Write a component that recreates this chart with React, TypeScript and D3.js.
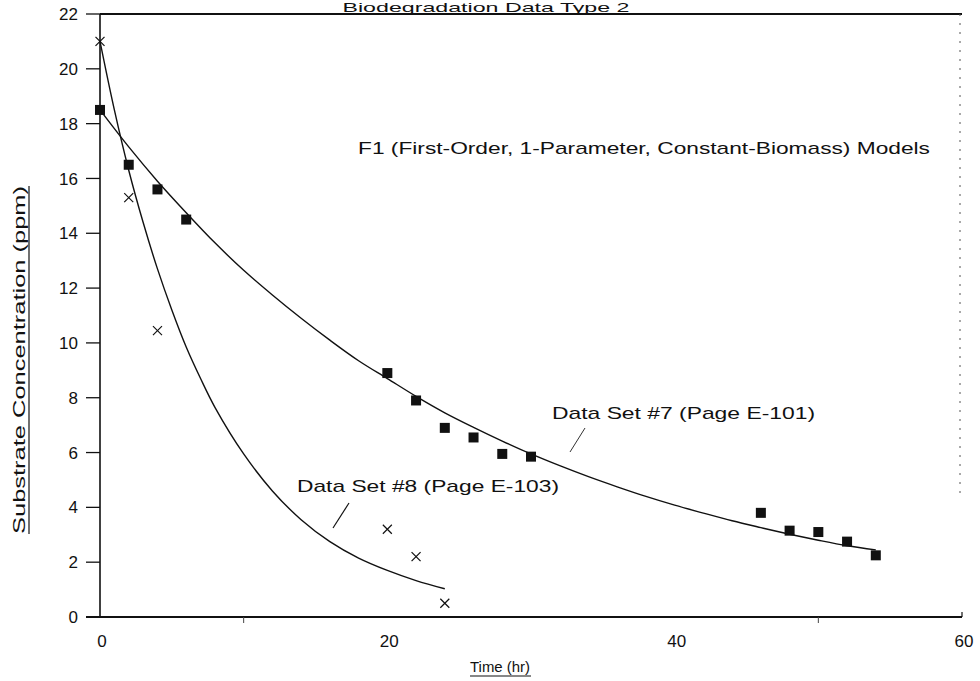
import React from "react";
import * as d3 from "d3";

const W = 980;
const H = 681;

const titleText = "Biodegradation Data Type 2";
const modelText = "F1 (First-Order, 1-Parameter, Constant-Biomass) Models";
const xLabel = "Time (hr)";
const yLabel = "Substrate Concentration (ppm)";
const label7 = "Data Set #7 (Page E-101)";
const label8 = "Data Set #8 (Page E-103)";

const xTicks = [0, 20, 40, 60];
const xMinorTicks = [10, 50];
const yTicks = [0, 2, 4, 6, 8, 10, 12, 14, 16, 18, 20, 22];

// Data Set #7 (squares)
const set7T = [0, 2, 4, 6, 20, 22, 24, 26, 28, 30, 46, 48, 50, 52, 54];
const set7C = [18.5, 16.5, 15.6, 14.5, 8.9, 7.9, 6.9, 6.55, 5.95, 5.85, 3.8, 3.15, 3.1, 2.75, 2.25];

// Data Set #8 (crosses)
const set8T = [0, 2, 4, 20, 22, 24];
const set8C = [21.0, 15.3, 10.45, 3.2, 2.2, 0.5];

// Model curve #7
const fit7T = [0, 2, 4, 6, 8, 10, 12, 14, 16, 18, 20, 22, 24, 26, 28, 30, 32, 34, 36, 38, 40, 42, 44, 46, 48, 50, 52, 54];
const fit7C = [18.5, 17.15, 15.9, 14.75, 13.65, 12.65, 11.75, 10.9, 10.1, 9.35, 8.7, 8.05, 7.45, 6.92, 6.42, 5.95, 5.52, 5.12, 4.75, 4.4, 4.08, 3.79, 3.51, 3.26, 3.02, 2.8, 2.6, 2.45];

// Model curve #8
const fit8T = [0, 1, 2, 3, 4, 5, 6, 7, 8, 10, 12, 14, 16, 18, 20, 22, 24];
const fit8C = [21.0, 18.5, 16.3, 14.4, 12.7, 11.2, 9.85, 8.7, 7.65, 5.95, 4.6, 3.55, 2.75, 2.15, 1.7, 1.33, 1.03];

const FONT = "'Liberation Sans', Arial, sans-serif";

export default function App() {
  const x = d3.scaleLinear().domain([0, 60]).range([100, 962]);
  const y = d3.scaleLinear().domain([0, 22]).range([617, 14]);

  const line = d3
    .line<[number, number]>()
    .x((d) => x(d[0]))
    .y((d) => y(d[1]))
    .curve(d3.curveCatmullRom.alpha(0.5));

  const fit7 = fit7T.map((t, i) => [t, fit7C[i]] as [number, number]);
  const fit8 = fit8T.map((t, i) => [t, fit8C[i]] as [number, number]);

  const ink = "#111";

  return (
    <div style={{ position: "absolute", left: 0, top: 0 }}>
      <svg width={W} height={H} style={{ display: "block", background: "#fff" }} fontFamily={FONT}>
        {/* title */}
        <text x={486} y={12} textAnchor="middle" fontSize={13} fill={ink} textLength={287} lengthAdjust="spacingAndGlyphs">
          {titleText}
        </text>

        {/* frame */}
        <line x1={x(0)} x2={x(60)} y1={y(22)} y2={y(22)} stroke={ink} strokeWidth={2} />
        <line x1={x(0)} x2={x(0)} y1={y(22)} y2={y(0)} stroke={ink} strokeWidth={1.6} />
        <line x1={x(0) - 14} x2={x(60)} y1={y(0)} y2={y(0)} stroke={ink} strokeWidth={2} />
        <line x1={x(60) - 2} x2={x(60) - 2} y1={y(22)} y2={y(4.3)} stroke="#555" strokeWidth={1} strokeDasharray="2 7" />
        <line x1={x(60)} x2={x(60)} y1={y(0)} y2={y(0) - 5} stroke={ink} strokeWidth={1.2} />

        {/* y ticks */}
        {yTicks.map((v) => (
          <g key={"yt" + v}>
            <line x1={x(0) - 14} x2={x(0)} y1={y(v)} y2={y(v)} stroke={ink} strokeWidth={1.3} />
            <text x={78} y={y(v)} dy="0.36em" textAnchor="end" fontSize={17} fill={ink}>
              {v}
            </text>
          </g>
        ))}

        {/* x ticks */}
        {xTicks.map((v) => (
          <text key={"xt" + v} x={x(v) + 2} y={647} textAnchor="middle" fontSize={17} fill={ink}>
            {v}
          </text>
        ))}
        {xMinorTicks.map((v) => (
          <line key={"xm" + v} x1={x(v)} x2={x(v)} y1={y(0)} y2={y(0) + 6} stroke="#444" strokeWidth={1} />
        ))}

        {/* axis labels */}
        <text x={500} y={672} textAnchor="middle" fontSize={15} fill={ink} textLength={60} lengthAdjust="spacingAndGlyphs">
          {xLabel}
        </text>
        <line x1={470} x2={531} y1={676} y2={676} stroke={ink} strokeWidth={1.2} />

        <g transform="translate(25,360) rotate(-90)">
          <text x={0} y={0} textAnchor="middle" fontSize={17} fill={ink} textLength={348} lengthAdjust="spacingAndGlyphs">
            {yLabel}
          </text>
          <line x1={-174} x2={174} y1={4} y2={4} stroke={ink} strokeWidth={1.2} />
        </g>

        {/* model caption */}
        <text x={358} y={154} fontSize={17} fill={ink} textLength={572} lengthAdjust="spacingAndGlyphs">
          {modelText}
        </text>

        {/* fitted curves */}
        <path d={line(fit7) || ""} fill="none" stroke={ink} strokeWidth={1.4} />
        <path d={line(fit8) || ""} fill="none" stroke={ink} strokeWidth={1.4} />

        {/* squares */}
        {set7T.map((t, i) => (
          <rect key={"s" + i} x={x(t) - 5} y={y(set7C[i]) - 5} width={10} height={10} fill={ink} />
        ))}

        {/* crosses */}
        {set8T.map((t, i) => {
          const cx = x(t);
          const cy = y(set8C[i]);
          const r = 4.5;
          return (
            <g key={"c" + i} stroke={ink} strokeWidth={1.2}>
              <line x1={cx - r} x2={cx + r} y1={cy - r} y2={cy + r} />
              <line x1={cx - r} x2={cx + r} y1={cy + r} y2={cy - r} />
            </g>
          );
        })}

        {/* data-set labels */}
        <text x={552} y={419} fontSize={17} fill={ink} textLength={263} lengthAdjust="spacingAndGlyphs">
          {label7}
        </text>
        <line x1={585} x2={570} y1={428} y2={452} stroke="#333" strokeWidth={1} />
        <text x={297} y={492} fontSize={17} fill={ink} textLength={262} lengthAdjust="spacingAndGlyphs">
          {label8}
        </text>
        <line x1={349} x2={333} y1={503} y2={528} stroke={ink} strokeWidth={1.2} />
      </svg>
    </div>
  );
}
